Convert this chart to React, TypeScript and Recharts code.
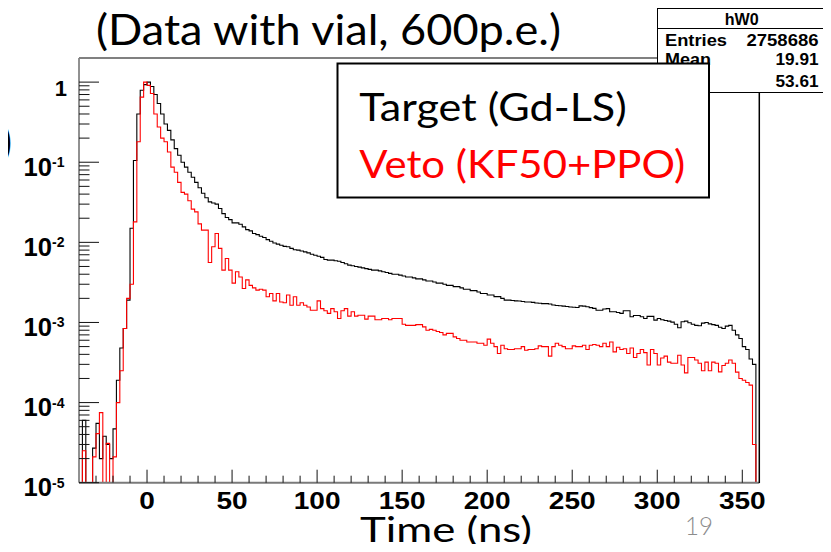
import { ComposedChart, Line, XAxis, YAxis } from 'recharts'

const BIN_START = -40
const BIN_WIDTH = 2
const Y_MIN = 1e-5
const Y_MAX = 2

// Target (Gd-LS), normalised counts per 2 ns bin, one value per bin from -40 ns
const targetRise = [
  0, 6e-5, 0, 0, 2.7e-5, 5.5e-5, 2e-5, 3.8e-5, 3e-5, 2e-5,
  4.7e-5, 1.9e-4, 4.8e-4, 8.4e-4, 1.9e-3, 0.015, 0.105, 0.4, 0.79, 0.93,
  1.0, 0.88, 0.7, 0.54, 0.4, 0.3, 0.25, 0.19, 0.148, 0.122,
  0.1, 0.087, 0.075, 0.065, 0.056, 0.048, 0.041, 0.036, 0.032, 0.031,
  0.03, 0.0264, 0.0228, 0.0204, 0.0192, 0.0175, 0.0175, 0.0168, 0.0156, 0.0144,
]
const targetDecay = [
  0.0139, 0.0129, 0.0125, 0.0119, 0.0115, 0.0108, 0.0103, 0.0098, 0.0095, 0.0092,
  0.0089, 0.0088, 0.0084, 0.0081, 0.008, 0.0078, 0.0076, 0.0074, 0.0071, 0.0069,
  0.0067, 0.0065, 0.0061, 0.006, 0.006, 0.0059, 0.0058, 0.0056, 0.0054, 0.0052,
  0.0051, 0.005, 0.0049, 0.0048, 0.0047, 0.0046, 0.0045, 0.0045, 0.0044, 0.0043,
  0.0042, 0.0041, 0.004, 0.004, 0.0039, 0.0038, 0.0037, 0.0037, 0.0036, 0.0035,
]
const targetSlow = [
  0.0035, 0.0034, 0.0033, 0.0033, 0.0032, 0.0031, 0.0031, 0.003, 0.0029, 0.0029,
  0.0028, 0.0028, 0.0027, 0.0026, 0.0026, 0.0025, 0.0025, 0.0024, 0.0023, 0.0023,
  0.0022, 0.0022, 0.0021, 0.0021, 0.002, 0.0019, 0.0019, 0.00188, 0.00186, 0.00185,
  0.00183, 0.0018, 0.0018, 0.00178, 0.00175, 0.00174, 0.00172, 0.00172, 0.0017, 0.00165,
  0.00163, 0.00162, 0.0016, 0.00158, 0.00156, 0.00155, 0.00154, 0.00161, 0.0016, 0.00157,
]
const targetTail = [
  0.00153, 0.0015, 0.00142, 0.00142, 0.00147, 0.00149, 0.00136, 0.00136, 0.00133, 0.0013,
  0.0014, 0.0014, 0.00118, 0.00122, 0.00122, 0.00118, 0.00112, 0.00119, 0.00119, 0.00107,
  0.00112, 0.00108, 0.00106, 0.00104, 0.00101, 0.00095, 0.00086, 0.00102, 0.00104, 0.00099,
  0.00095, 0.00092, 0.00091, 0.00098, 0.001, 0.00096, 0.00094, 0.00092, 0.00087, 0.00084,
  0.0009, 0.00092, 0.0008, 0.0007, 0.00063, 0.0005, 0.00046, 0.00035, 0.0003, 0,
]

// Veto (KF50+PPO)
const vetoRise = [
  0, 2.5e-5, 0, 0, 2.1e-5, 4.1e-5, 7.5e-5, 0, 3.1e-5, 0,
  2.1e-5, 1e-4, 2.5e-4, 8.4e-4, 2e-3, 0.003, 0.018, 0.18, 0.65, 1.0,
  0.91, 0.72, 0.4, 0.275, 0.2, 0.18, 0.134, 0.087, 0.075, 0.056,
  0.042, 0.04, 0.033, 0.026, 0.024, 0.017, 0.0142, 0.0142, 0.0056, 0.0088,
  0.0129, 0.0084, 0.0045, 0.0063, 0.0045, 0.0031, 0.0043, 0.0037, 0.00265, 0.0034,
]
const vetoDecay = [
  0.0029, 0.0027, 0.00253, 0.0026, 0.00253, 0.00209, 0.0023, 0.00186, 0.0023, 0.0018,
  0.00176, 0.0022, 0.00164, 0.00209, 0.00164, 0.00176, 0.00164, 0.00156, 0.00142, 0.00142,
  0.00186, 0.00149, 0.0014, 0.0013, 0.00149, 0.00136, 0.00112, 0.0014, 0.00149, 0.0012,
  0.00136, 0.0012, 0.00123, 0.00123, 0.0011, 0.0012, 0.0012, 0.00108, 0.00108, 0.00112,
  0.00112, 0.00108, 0.00112, 0.00112, 0.00112, 0.00095, 0.00092, 0.00092, 0.00092, 0.00094,
]
const vetoSlow = [
  0.00094, 0.00088, 0.0008, 0.00082, 0.0008, 0.00077, 0.00075, 0.0007, 0.00073, 0.00073,
  0.00066, 0.00063, 0.0006, 0.0006, 0.00057, 0.00057, 0.00057, 0.00055, 0.00055, 0.00052,
  0.00062, 0.00055, 0.0005, 0.00041, 0.00052, 0.00047, 0.00046, 0.00046, 0.00047, 0.00047,
  0.0005, 0.00045, 0.00046, 0.00046, 0.00047, 0.00051, 0.0005, 0.0005, 0.00038, 0.0005,
  0.00055, 0.00052, 0.0005, 0.00047, 0.00047, 0.00051, 0.0005, 0.0005, 0.00052, 0.00046,
]
const vetoTail = [
  0.00052, 0.00053, 0.00052, 0.0005, 0.00055, 0.0005, 0.00057, 0.00043, 0.00049, 0.00046,
  0.00047, 0.00041, 0.00048, 0.000366, 0.00041, 0.00046, 0.00042, 0.000294, 0.00046, 0.00041,
  0.000294, 0.00036, 0.00038, 0.00032, 0.00031, 0.00031, 0.00039, 0.000294, 0.000235, 0.000366,
  0.000366, 0.00034, 0.00031, 0.00025, 0.00032, 0.00025, 0.00032, 0.00031, 0.000242, 0.00029,
  0.00031, 0.00034, 0.00031, 0.00024, 0.0002, 0.00019, 0.000178, 0.000165, 0.00003, 0,
]

const xTicks = [-30, -20, -10, 0, 10, 20, 30, 40, 50, 60, 70, 80, 90, 100, 110, 120, 130, 140, 150, 160,
  170, 180, 190, 200, 210, 220, 230, 240, 250, 260, 270, 280, 290, 300, 310, 320, 330, 340, 350]
const yMajor = [1e-5, 1e-4, 1e-3, 1e-2, 1e-1, 1]
const yMinorSteps = [2, 3, 4, 5, 6, 7, 8, 9]

const target = [...targetRise, ...targetDecay, ...targetSlow, ...targetTail]
const veto = [...vetoRise, ...vetoDecay, ...vetoSlow, ...vetoTail]

// empty bins sit on the floor of the log axis, as ROOT draws them
const rows = target.map((v, i) => ({
  t: BIN_START + i * BIN_WIDTH,
  target: Math.max(v, Y_MIN),
  veto: Math.max(veto[i], Y_MIN),
}))
rows.push({ t: BIN_START + target.length * BIN_WIDTH, target: Y_MIN, veto: Y_MIN })

const yTicks = [
  ...yMajor,
  ...yMajor.slice(0, -1).flatMap((d) => yMinorSteps.map((m) => m * d)),
]

const ROOT_FONT = '"Liberation Sans", Arial, sans-serif'
const SLIDE_FONT = 'Lato, "Open Sans", sans-serif'

const PLOT_LEFT = 79
const PLOT_BOTTOM = 482.7

function XTick({ x, payload }: any) {
  const v = payload.value as number
  const major = v % 50 === 0
  const label = String(v)
  const y = PLOT_BOTTOM
  return (
    <g>
      <line x1={x} x2={x} y1={y} y2={y - (major ? 13 : 7)} stroke="#111" strokeWidth={1} />
      {major && (
        <text
          x={x}
          y={y + 26}
          textAnchor="middle"
          fontFamily={ROOT_FONT}
          fontWeight="bold"
          fontSize={24}
          fill="#000"
          textLength={label.length * 15.6}
          lengthAdjust="spacingAndGlyphs"
        >
          {label}
        </text>
      )}
    </g>
  )
}

function YTick({ y, payload }: any) {
  const v = payload.value as number
  const exp = Math.round(Math.log10(v))
  const major = yMajor.includes(v)
  const x = PLOT_LEFT
  return (
    <g>
      <line x1={x} x2={x + (major ? 20 : 10.5)} y1={y} y2={y} stroke="#111" strokeWidth={1} />
      {major && exp === 0 && (
        <text x={67} y={y + 13.5} textAnchor="end" fontFamily={ROOT_FONT} fontWeight="bold" fontSize={22} fill="#000">
          1
        </text>
      )}
      {major && exp !== 0 && (
        <g fontFamily={ROOT_FONT} fontWeight="bold" fill="#000">
          <text x={52} y={y + 13.5} textAnchor="end" fontSize={25} textLength={28.5} lengthAdjust="spacingAndGlyphs">
            10
          </text>
          <text x={52} y={y + 5} fontSize={14}>
            {'-' + Math.abs(exp)}
          </text>
        </g>
      )}
    </g>
  )
}

export default function App() {
  return (
    <div style={{ position: 'relative', width: 831, height: 552, margin: -8, background: '#fff', overflow: 'hidden' }}>
      <ComposedChart width={831} height={552} data={rows} margin={{ top: 58, right: 71.7, bottom: 49.3, left: 59 }}>
        <XAxis
          type="number"
          dataKey="t"
          domain={[BIN_START, BIN_START + target.length * BIN_WIDTH]}
          allowDataOverflow
          ticks={xTicks}
          interval={0}
          height={20}
          tickSize={0}
          tickMargin={0}
          axisLine={{ stroke: '#7a7a7a', strokeWidth: 2 }}
          tick={<XTick />}
        />
        <YAxis
          type="number"
          scale="log"
          domain={[Y_MIN, Y_MAX]}
          allowDataOverflow
          ticks={yTicks}
          interval={0}
          width={20}
          tickSize={0}
          tickMargin={0}
          axisLine={{ stroke: '#222', strokeWidth: 1 }}
          tick={<YTick />}
        />
        <Line type="stepAfter" dataKey="target" stroke="#000" strokeWidth={1.1} dot={false} isAnimationActive={false} />
        <Line type="stepAfter" dataKey="veto" stroke="#ff0000" strokeWidth={1.1} dot={false} isAnimationActive={false} />
      </ComposedChart>

      <svg width={831} height={552} style={{ position: 'absolute', left: 0, top: 0, pointerEvents: 'none' }}>
        {/* frame */}
        <line x1={79} x2={760} y1={58} y2={58} stroke="#808080" strokeWidth={2} />
        <line x1={759.3} x2={759.3} y1={58} y2={483} stroke="#000" strokeWidth={1.5} />

        {/* stats box */}
        <rect x={657.5} y={8.5} width={180} height={84} fill="#fff" stroke="#000" strokeWidth={1} />
        <line x1={657.5} x2={831} y1={28.5} y2={28.5} stroke="#000" strokeWidth={1} />
        <g fontFamily={ROOT_FONT} fontWeight="bold" fontSize={16.5} fill="#000">
          <text x={741.7} y={25} textAnchor="middle" textLength={34} lengthAdjust="spacingAndGlyphs">hW0</text>
          <text x={665} y={45.5} textLength={62} lengthAdjust="spacingAndGlyphs">Entries</text>
          <text x={818.5} y={45.5} textAnchor="end" textLength={72} lengthAdjust="spacingAndGlyphs">2758686</text>
          <text x={665} y={65} textLength={46} lengthAdjust="spacingAndGlyphs">Mean</text>
          <text x={818.5} y={65} textAnchor="end" textLength={43} lengthAdjust="spacingAndGlyphs">19.91</text>
          <text x={665} y={86.5} textLength={36} lengthAdjust="spacingAndGlyphs">RMS</text>
          <text x={818.5} y={86.5} textAnchor="end" textLength={43} lengthAdjust="spacingAndGlyphs">53.61</text>
        </g>

        {/* legend */}
        <rect x={337.5} y={63.5} width={371.5} height={134} fill="#fff" stroke="#000" strokeWidth={2} />
        <text x={359.3} y={121} fontFamily={SLIDE_FONT} fontSize={39.5} fill="#000" textLength={267.4} lengthAdjust="spacingAndGlyphs">
          Target (Gd-LS)
        </text>
        <text x={359.3} y={178.3} fontFamily={SLIDE_FONT} fontSize={39.5} fill="#ff0000" textLength={326} lengthAdjust="spacingAndGlyphs">
          Veto (KF50+PPO)
        </text>

        {/* slide texts */}
        <text x={96} y={45} fontFamily={SLIDE_FONT} fontSize={43} fill="#000" textLength={465} lengthAdjust="spacingAndGlyphs">
          (Data with vial, 600p.e.)
        </text>
        <text x={0} y={158} fontFamily={SLIDE_FONT} fontSize={46} fill="#000">)</text>
        <text x={360} y={542} fontFamily={SLIDE_FONT} fontSize={35} fill="#000" textLength={172} lengthAdjust="spacingAndGlyphs">
          Time (ns)
        </text>
        <text x={685} y={535} fontFamily={SLIDE_FONT} fontWeight={300} fontSize={26} fill="#8c8c8c" textLength={28} lengthAdjust="spacingAndGlyphs">
          19
        </text>
      </svg>
    </div>
  )
}
